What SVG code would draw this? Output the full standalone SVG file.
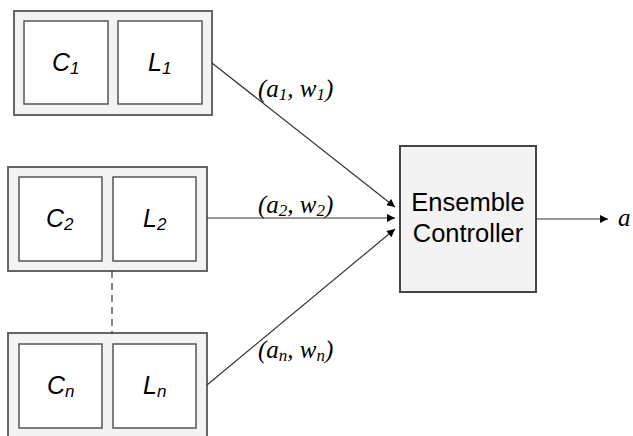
<svg xmlns="http://www.w3.org/2000/svg" width="633" height="436" viewBox="0 0 633 436">
<style>
.outer{fill:#f3f3f3;stroke:#666;stroke-width:2}
.inner{fill:#fff;stroke:#555;stroke-width:1.5}
.ctrl{fill:#f3f3f3;stroke:#444;stroke-width:2}
.lbl{font-family:"Liberation Sans",Arial,sans-serif;font-style:italic;font-size:25px;fill:#000}
.sub{font-size:17px}
.edge{font-family:"Liberation Serif","Times New Roman",serif;font-style:italic;font-size:25px;fill:#000}
.es{font-size:17px}
.ctxt{font-family:"Liberation Sans",Arial,sans-serif;font-size:25.5px;fill:#000}
.conn{stroke:#333;stroke-width:1.2;fill:none}
</style>
<defs>
<marker id="ah" viewBox="0 0 10 10" refX="10" refY="5" markerWidth="10" markerHeight="8" markerUnits="userSpaceOnUse" orient="auto">
<path d="M0,0 L10,5 L0,10 Z" fill="#000"/>
</marker>
</defs>
<g id="group1">
<rect class="outer" x="14" y="11" width="198" height="104"/>
<rect class="inner" x="24" y="21" width="84" height="83"/>
<rect class="inner" x="118" y="21" width="84" height="83"/>
<text class="lbl" x="52" y="71">C<tspan class="sub" dy="3">1</tspan></text>
<text class="lbl" x="148" y="71">L<tspan class="sub" dy="3">1</tspan></text>
</g>
<g id="group2">
<rect class="outer" x="8" y="167" width="199" height="104"/>
<rect class="inner" x="19" y="177" width="83" height="84"/>
<rect class="inner" x="113" y="177" width="83" height="84"/>
<text class="lbl" x="46" y="227">C<tspan class="sub" dy="3">2</tspan></text>
<text class="lbl" x="143" y="227">L<tspan class="sub" dy="3">2</tspan></text>
</g>
<g id="groupn">
<rect class="outer" x="8" y="333" width="199" height="110"/>
<rect class="inner" x="19" y="344" width="83" height="84"/>
<rect class="inner" x="113" y="344" width="83" height="84"/>
<text class="lbl" x="47" y="394">C<tspan class="sub" dy="3">n</tspan></text>
<text class="lbl" x="143" y="394">L<tspan class="sub" dy="3">n</tspan></text>
</g>
<g id="controller">
<rect class="ctrl" x="400" y="146" width="136" height="146"/>
<text class="ctxt" x="468" y="211" text-anchor="middle">Ensemble</text>
<text class="ctxt" x="468" y="242" text-anchor="middle">Controller</text>
</g>
<g id="connectors">
<line class="conn" x1="112" y1="271" x2="112" y2="333" stroke-dasharray="7,5" stroke="#555"/>
<line class="conn" x1="212" y1="63" x2="395" y2="207" marker-end="url(#ah)"/>
<line class="conn" x1="207" y1="218" x2="395" y2="218" marker-end="url(#ah)"/>
<line class="conn" x1="207" y1="385" x2="395" y2="229" marker-end="url(#ah)"/>
<line class="conn" x1="536" y1="219" x2="608" y2="219" marker-end="url(#ah)"/>
<text class="edge" x="258" y="97">(a<tspan class="es" dy="3">1</tspan><tspan dy="-3">, w</tspan><tspan class="es" dy="3">1</tspan><tspan dy="-3">)</tspan></text>
<text class="edge" x="258" y="213">(a<tspan class="es" dy="3">2</tspan><tspan dy="-3">, w</tspan><tspan class="es" dy="3">2</tspan><tspan dy="-3">)</tspan></text>
<text class="edge" x="258" y="358">(a<tspan class="es" dy="3">n</tspan><tspan dy="-3">, w</tspan><tspan class="es" dy="3">n</tspan><tspan dy="-3">)</tspan></text>
<text class="edge" x="618" y="226">a</text>
</g>
</svg>
